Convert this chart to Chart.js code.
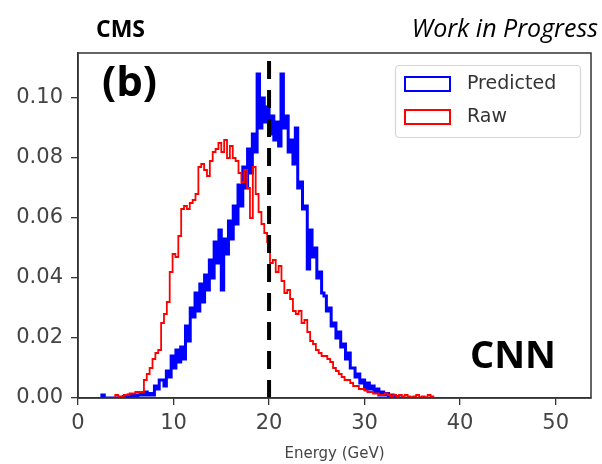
<!DOCTYPE html>
<html>
<head>
<meta charset="utf-8">
<script src="https://cdn.jsdelivr.net/npm/chart.js@4"></script>
<style>
html,body{margin:0;padding:0;background:#fff;}
#c{display:block;}
</style>
</head>
<body>
<canvas id="c" width="602" height="464"></canvas>
<script>
// ---- data ----
const seriesNames = ["Predicted", "Raw"];
const predBinStart = 2.5;
const predBinWidth = 0.25;
const predValues = [
  0, 0.001, 0, 0, 0, 0, 0, 0, 0, 0, 0.0005, 0, 0.001, 0, 0.001, 0.0005, 0.001, 0.0015, 0.001, 0.002, 0.001, 0.0015,
  0.001, 0.004, 0.003, 0.006,
  0.006, 0.004, 0.009, 0.007,
  0.014, 0.010, 0.016, 0.012,
  0.017, 0.013, 0.024, 0.019,
  0.030, 0.027, 0.035, 0.029,
  0.038, 0.032, 0.041, 0.036,
  0.046, 0.040, 0.052, 0.045,
  0.056, 0.036, 0.053, 0.048,
  0.059, 0.053, 0.064, 0.058,
  0.071, 0.064, 0.077, 0.070,
  0.083, 0.075, 0.088, 0.082,
  0.108, 0.090, 0.100, 0.092,
  0.097, 0.088, 0.094, 0.086,
  0.092, 0.084, 0.108, 0.090,
  0.094, 0.082, 0.086, 0.078,
  0.090, 0.070, 0.072, 0.063,
  0.064, 0.043, 0.056, 0.047,
  0.050, 0.040, 0.042, 0.035,
  0.034, 0.029, 0.030, 0.024,
  0.025, 0.020, 0.022, 0.017,
  0.018, 0.013, 0.015, 0.010,
  0.010, 0.007, 0.008, 0.005,
  0.006, 0.003, 0.005, 0.003,
  0.004, 0.002, 0.003, 0.001,
  0.002, 0.001, 0.0015, 0.0005,
  0.001, 0, 0.0005, 0
];
const rawBinStart = 3.9;
const rawBinWidth = 0.3;
const rawValues = [
  0.001, 0.001, 0.0005, 0.0005, 0.001, 0.001, 0.0015, 0.0015, 0.002, 0.002, 0.002,
  0.006, 0.008, 0.010, 0.013, 0.015, 0.016, 0.025, 0.028, 0.032, 0.042,
  0.048, 0.047, 0.054, 0.063, 0.064, 0.063, 0.065, 0.066, 0.068, 0.077,
  0.078, 0.076, 0.074, 0.079, 0.082, 0.083, 0.085, 0.082, 0.086, 0.080,
  0.084, 0.080, 0.079, 0.075, 0.072, 0.076, 0.070, 0.060, 0.077, 0.068,
  0.062, 0.058, 0.055, 0.052, 0.045, 0.046, 0.042, 0.044, 0.039, 0.035,
  0.036, 0.033, 0.029, 0.028, 0.029, 0.025, 0.026, 0.022, 0.019, 0.018,
  0.016, 0.015, 0.014, 0.014, 0.013, 0.012, 0.010, 0.009, 0.008, 0.007,
  0.006, 0.006, 0.005, 0.004, 0.004, 0.003, 0.003, 0.0025, 0.002, 0.002,
  0.0015, 0.0015, 0.001, 0.001, 0.0015, 0.001, 0.0005, 0.001, 0.0005, 0.001,
  0.0005, 0.001, 0.0005, 0.0003, 0.0005, 0.001, 0.0003, 0.0005, 0.0003, 0.001,
  0.0005
];
const referenceEnergy = 20;
const xTicks = [0, 10, 20, 30, 40, 50];
const yTicks = [0.00, 0.02, 0.04, 0.06, 0.08, 0.10];
const xRange = [0, 53.7];
const yRange = [0, 0.115];

// ---- build histogram step points ----
function histPoints(start, width, vals) {
  const pts = [{x: start, y: 0}];
  vals.forEach((v, i) => pts.push({x: start + i * width, y: v}));
  pts.push({x: start + vals.length * width, y: 0});
  return pts;
}

const framePlugin = {
  id: 'frame',
  afterDraw(chart) {
    const ctx = chart.ctx, a = chart.chartArea;
    ctx.save();
    ctx.strokeStyle = '#333';
    ctx.lineWidth = 1.5;
    ctx.strokeRect(a.left, a.top, a.right - a.left, a.bottom - a.top);

    // legend
    ctx.fillStyle = 'rgba(255,255,255,0.85)';
    ctx.strokeStyle = '#d4d4d4';
    ctx.lineWidth = 1.2;
    ctx.beginPath();
    ctx.roundRect(395.5, 65.5, 185, 72, 4);
    ctx.fill(); ctx.stroke();
    ctx.lineWidth = 2;
    ctx.strokeStyle = '#0000ff';
    ctx.strokeRect(405, 77, 45, 14);
    ctx.strokeStyle = '#ff0000';
    ctx.strokeRect(405, 110, 45, 14);
    ctx.fillStyle = '#333';
    ctx.font = '19px "DejaVu Sans"';
    ctx.textBaseline = 'middle';
    ctx.textAlign = 'left';
    ctx.fillText(seriesNames[0], 467, 84);
    ctx.fillText(seriesNames[1], 467, 117);

    // annotations
    ctx.textBaseline = 'alphabetic';
    ctx.fillStyle = '#000';
    ctx.font = 'bold 23px "Open Sans"';
    ctx.fillText('CMS', 96, 37);
    ctx.font = 'italic 25px "Open Sans"';
    ctx.textAlign = 'right';
    ctx.fillText('Work in Progress', 598, 37);
    ctx.textAlign = 'left';
    ctx.font = 'bold 42px "Open Sans"';
    ctx.fillText('(b)', 102, 96);
    ctx.font = 'bold 38px "Open Sans"';
    ctx.fillText('CNN', 470, 368);

    // x axis title
    ctx.fillStyle = '#444';
    ctx.font = '15px "DejaVu Sans"';
    ctx.textAlign = 'center';
    ctx.fillText('Energy (GeV)', (a.left + a.right) / 2, 458);
    ctx.restore();
  }
};

new Chart(document.getElementById('c'), {
  type: 'line',
  data: {
    datasets: [
      {
        label: 'ref',
        data: [{x: referenceEnergy, y: yRange[0]}, {x: referenceEnergy, y: yRange[1]}],
        borderColor: '#000',
        borderWidth: 4,
        borderDash: [18, 11],
        pointRadius: 0,
        order: 0
      },
      {
        label: seriesNames[1],
        data: histPoints(rawBinStart, rawBinWidth, rawValues),
        borderColor: '#ff0000',
        borderWidth: 1.8,
        stepped: 'after',
        pointRadius: 0,
        fill: false,
        order: 1
      },
      {
        label: seriesNames[0],
        data: histPoints(predBinStart, predBinWidth, predValues),
        borderColor: '#0000ff',
        borderWidth: 3,
        stepped: 'after',
        pointRadius: 0,
        fill: false,
        order: 2
      }
    ]
  },
  options: {
    responsive: false,
    animation: false,
    devicePixelRatio: 1,
    layout: {padding: {left: 0, right: 11, top: 53, bottom: 0}},
    plugins: {legend: {display: false}, tooltip: {enabled: false}},
    scales: {
      x: {
        type: 'linear',
        min: xRange[0], max: xRange[1],
        afterBuildTicks: s => { s.ticks = xTicks.map(v => ({value: v})); },
        afterFit: s => { s.height = 66; },
        ticks: {
          color: '#444',
          font: {family: 'DejaVu Sans', size: 21},
          padding: 6,
          maxRotation: 0,
          callback: v => String(v)
        },
        grid: {drawOnChartArea: false, drawTicks: true, tickLength: 7, color: '#333', lineWidth: 1.3},
        border: {display: true, color: '#333', width: 1.5}
      },
      y: {
        type: 'linear',
        min: yRange[0], max: yRange[1],
        afterBuildTicks: s => { s.ticks = yTicks.map(v => ({value: v})); },
        afterFit: s => { s.width = 78; },
        ticks: {
          color: '#444',
          font: {family: 'DejaVu Sans', size: 21},
          padding: 8,
          callback: v => v.toFixed(2)
        },
        grid: {drawOnChartArea: false, drawTicks: true, tickLength: 7, color: '#333', lineWidth: 1.3},
        border: {display: true, color: '#333', width: 1.5}
      }
    }
  },
  plugins: [framePlugin]
});
</script>
</body>
</html>
